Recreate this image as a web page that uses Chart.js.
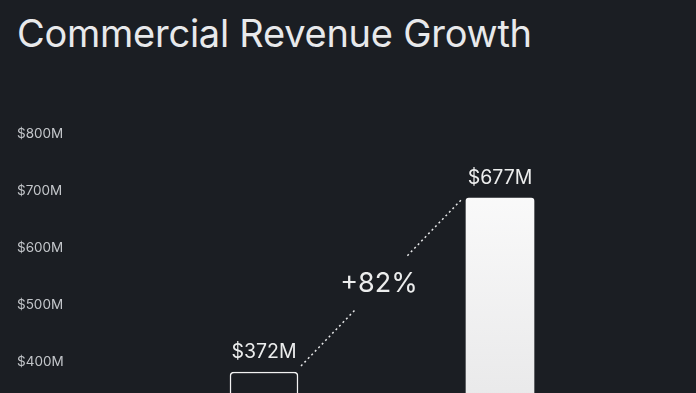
<!DOCTYPE html>
<html>
<head>
<meta charset="utf-8">
<script src="https://cdn.jsdelivr.net/npm/chart.js@4"></script>
<style>
  html, body { margin: 0; padding: 0; background: #1b1e23; overflow: hidden; width: 696px; height: 393px; }
  #title {
    position: absolute; left: 17px; top: 14px;
    font-family: Inter, "Noto Sans", sans-serif; font-size: 38px; line-height: 1;
    font-weight: 400; color: #e8e9eb; letter-spacing: -0.25px; white-space: nowrap;
  }
  #wrap { position: absolute; left: 0; top: 0; width: 696px; height: 600px; }
</style>
</head>
<body>
<div id="title">Commercial Revenue Growth</div>
<div id="wrap"><canvas id="chart" width="696" height="600"></canvas></div>
<script>
const categories = ["Before", "After"];
const revenue = [372, 677];
const yTicks = [0, 100, 200, 300, 400, 500, 600, 700, 800];

const bg = "#1b1e23";

function barFill(ctx) {
  if (ctx.dataIndex === 0) return bg;
  const area = ctx.chart.chartArea;
  if (!area) return "#ffffff";
  const g = ctx.chart.ctx.createLinearGradient(0, area.top, 0, area.bottom);
  g.addColorStop(0, "#ffffff");
  g.addColorStop(0.6, "#e9e9ea");
  g.addColorStop(1, "#d8d8da");
  return g;
}

// value labels over the bars + dotted growth line
const annotate = {
  id: "annotate",
  afterDatasetsDraw(chart) {
    const ctx = chart.ctx;
    const bars = chart.getDatasetMeta(0).data;
    ctx.save();
    ctx.fillStyle = "#eceded";
    ctx.textAlign = "center";
    ctx.textBaseline = "alphabetic";
    ctx.font = "19.5px Inter, 'Noto Sans', sans-serif";
    bars.forEach((b, i) => {
      ctx.fillText("$" + revenue[i] + "M", b.x, b.y - 14);
    });

    const a = bars[0], b = bars[1];
    const x1 = a.x + a.width / 2 + 3, y1 = a.y - 6;
    const x2 = b.x - b.width / 2 - 5, y2 = b.y + 2;
    const pt = t => [x1 + (x2 - x1) * t, y1 + (y2 - y1) * t];
    ctx.strokeStyle = "#e6e7e8";
    ctx.lineWidth = 1.5;
    ctx.setLineDash([2, 3]);
    [[0, 0.34], [0.665, 1]].forEach(([s, e]) => {
      const p = pt(s), q = pt(e);
      ctx.beginPath();
      ctx.moveTo(p[0], p[1]);
      ctx.lineTo(q[0], q[1]);
      ctx.stroke();
    });
    ctx.setLineDash([]);

    const growth = Math.round((revenue[1] / revenue[0] - 1) * 100);
    const m = pt(0.5);
    ctx.font = "27px Inter, 'Noto Sans', sans-serif";
    ctx.fillStyle = "#eceded";
    ctx.textBaseline = "middle";
    ctx.fillText("+" + growth + "%", m[0] - 2, m[1] + 1);
    ctx.restore();
  }
};

new Chart(document.getElementById("chart"), {
  type: "bar",
  data: {
    labels: categories,
    datasets: [{
      data: revenue,
      backgroundColor: barFill,
      borderColor: ["#f2f2f2", "#ffffff"],
      borderWidth: [1.5, 0],
      borderRadius: [4, 3],
      borderSkipped: "bottom",
      barThickness: 68
    }]
  },
  options: {
    responsive: false,
    animation: false,
    layout: { padding: { left: 17, right: 78, top: 128, bottom: 16 } },
    plugins: { legend: { display: false }, tooltip: { enabled: false } },
    scales: {
      x: { display: false },
      y: {
        min: 0,
        max: 800,
        afterFit: s => { s.width = 129; },
        afterBuildTicks: s => { s.ticks = yTicks.map(v => ({ value: v })); },
        grid: { display: false },
        border: { display: false },
        ticks: {
          crossAlign: "far",
          labelOffset: 6,
          color: "#c3c6ca",
          font: { family: "Inter, 'Noto Sans', sans-serif", size: 13.5 },
          callback: v => "$" + v + "M"
        }
      }
    }
  },
  plugins: [annotate]
});
</script>
</body>
</html>
